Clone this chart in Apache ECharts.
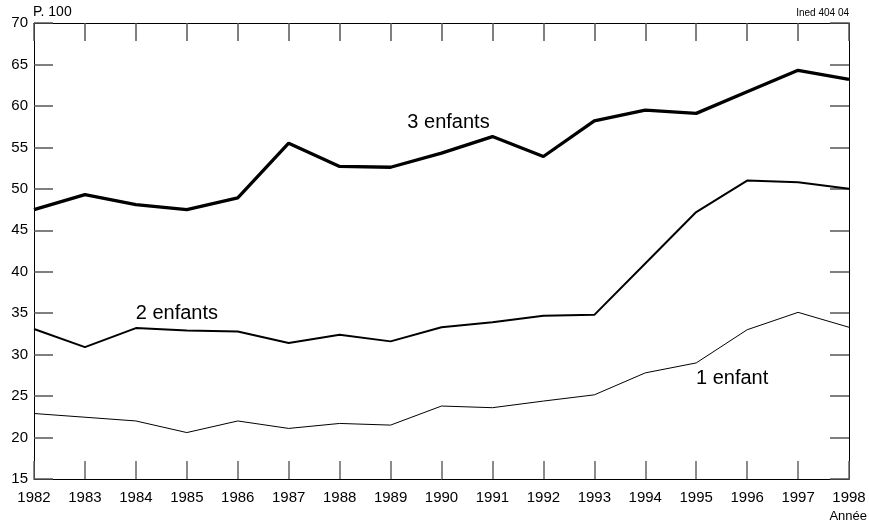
<!DOCTYPE html>
<html>
<head>
<meta charset="utf-8">
<script src="https://cdn.jsdelivr.net/npm/echarts@6/dist/echarts.min.js"></script>
<style>html,body{margin:0;padding:0;background:#fff}#c{width:869px;height:526px}</style>
</head>
<body>
<div id="c"></div>
<script>
const years = ['1982','1983','1984','1985','1986','1987','1988','1989','1990','1991','1992','1993','1994','1995','1996','1997','1998'];
const enfants3 = [47.5,49.3,48.1,47.5,48.9,55.5,52.7,52.6,54.3,56.3,53.9,58.2,59.5,59.1,61.7,64.3,63.2];
const enfants2 = [33.1,30.9,33.2,32.9,32.8,31.4,32.4,31.6,33.3,33.9,34.7,34.8,41.0,47.2,51.0,50.8,50.0];
const enfant1 = [22.9,22.45,22.0,20.6,22.0,21.1,21.7,21.5,23.8,23.6,24.4,25.15,27.8,29.0,33.0,35.1,33.3];
const yTicks = {min:15, max:70, interval:5};

const font = 'Liberation Sans, Arial, sans-serif';
const chart = echarts.init(document.getElementById('c'), null, {renderer:'canvas'});
function lineSeries(name, data, width, labelText, labelIdx, labelVal, off){
  return {
    name, type:'line', data, symbol:'none', animation:false,
    lineStyle:{color:'#000', width},
    markPoint:{
      symbol:'rect', symbolSize:0, animation:false,
      label:{show:true, formatter:labelText, color:'#000', fontFamily:font, fontSize:20, offset:off},
      data:[{coord:[labelIdx, labelVal]}]
    }
  };
}
chart.setOption({
  animation:false,
  grid:{left:34, right:20, top:23, bottom:47},
  xAxis:[{
    type:'category', data:years, boundaryGap:false, position:'bottom',
    axisLine:{lineStyle:{color:'#000', width:1}},
    axisTick:{inside:true, length:18, lineStyle:{color:'#666', width:1.5}},
    axisLabel:{color:'#000', fontFamily:font, fontSize:15, margin:11},
    splitLine:{show:false}
  },{
    type:'category', data:years, boundaryGap:false, position:'top',
    axisLine:{lineStyle:{color:'#000', width:1}},
    axisTick:{inside:true, length:18, lineStyle:{color:'#555', width:1.5}},
    axisLabel:{show:false}, splitLine:{show:false}
  }],
  yAxis:[{
    type:'value', min:yTicks.min, max:yTicks.max, interval:yTicks.interval, position:'left',
    axisLine:{show:true, lineStyle:{color:'#000', width:1}},
    axisTick:{show:true, inside:true, length:19, lineStyle:{color:'#555', width:1.5}},
    axisLabel:{color:'#000', fontFamily:font, fontSize:15, margin:6},
    splitLine:{show:false}
  },{
    type:'value', min:yTicks.min, max:yTicks.max, interval:yTicks.interval, position:'right',
    axisLine:{show:true, lineStyle:{color:'#000', width:1}},
    axisTick:{show:true, inside:true, length:19, lineStyle:{color:'#555', width:1.5}},
    axisLabel:{show:false}, splitLine:{show:false}
  }],
  series:[
    lineSeries('3 enfants', enfants3, 3.3, '3 enfants', 8, 58.0, [7,0]),
    lineSeries('2 enfants', enfants2, 2, '2 enfants', 2, 35.0, [41,0]),
    lineSeries('1 enfant', enfant1, 1, '1 enfant', 14, 27.1, [-15,0])
  ],
  graphic:[
    {type:'text', left:33, top:5, style:{text:'P. 100', fill:'#000', font:'14px '+font}},
    {type:'text', right:20, top:8, style:{text:'Ined 404 04', fill:'#000', font:'10px '+font}},
    {type:'text', right:2, top:510, style:{text:'Année', fill:'#000', font:'13px '+font}}
  ]
});
</script>
</body>
</html>
